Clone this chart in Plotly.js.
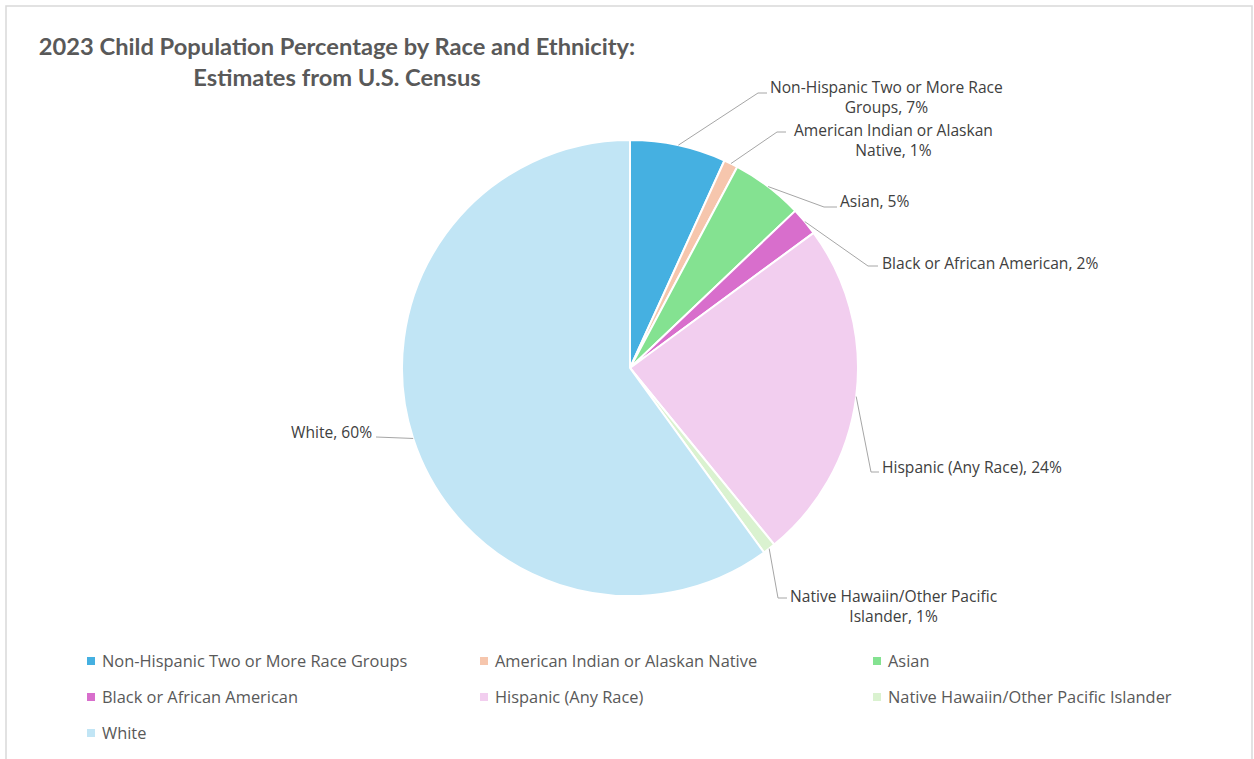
<!DOCTYPE html>
<html>
<head>
<meta charset="utf-8">
<script src="https://cdn.plot.ly/plotly-3.0.1.min.js"></script>
<style>
  html, body { margin: 0; padding: 0; background: #ffffff; }
  #chart { width: 1254px; height: 759px; }
</style>
</head>
<body>
<div id="chart"></div>
<script>
// ---- Data ----
const categories = [
  "Non-Hispanic Two or More Race Groups",
  "American Indian or Alaskan Native",
  "Asian",
  "Black or African American",
  "Hispanic (Any Race)",
  "Native Hawaiin/Other Pacific Islander",
  "White"
];
const values = [6.8, 1.0, 5.1, 2.0, 24.2, 0.9, 60.0];
const sliceLabels = [
  "Non-Hispanic Two or More Race<br>Groups",
  "American Indian or Alaskan<br>Native",
  "Asian",
  "Black or African American",
  "Hispanic (Any Race)",
  "Native Hawaiin/Other Pacific<br>Islander",
  "White"
];
const colors = ["#45B0E1", "#F6C6AD", "#84E291", "#D86ECC", "#F2CEEF", "#DAF2D0", "#C1E5F5"];

// ---- Layout constants (pixels) ----
const W = 1254, H = 759;
const CX = 630, CY = 368, R = 228;
const px = x => x / W;
const py = y => 1 - y / H;

// label placement (text block centre, leader elbow, leader end)
const labelPos = [
  {tx: 886, ty: 97,  anchor: "center", ex: 758, ey: 93,  endx: 767},
  {tx: 894, ty: 140, anchor: "center", ex: 777, ey: 132, endx: 786},
  {tx: 839, ty: 201, anchor: "left",   ex: 824, ey: 207, endx: 837},
  {tx: 881, ty: 263, anchor: "left",   ex: 868, ey: 266, endx: 878},
  {tx: 881, ty: 467, anchor: "left",   ex: 871, ey: 472, endx: 879},
  {tx: 894, ty: 606, anchor: "center", ex: 778, ey: 598, endx: 787},
  {tx: 373, ty: 432, anchor: "right",  ex: 376, ey: 437, endx: 376}
];

const total = values.reduce((a, b) => a + b, 0);
const shapes = [];
const annotations = [];

// chart frame
shapes.push({type: "rect", xref: "paper", yref: "paper",
  x0: px(6), x1: px(1252), y0: py(770), y1: py(6),
  line: {color: "#D9D9D9", width: 1.5}, fillcolor: "rgba(0,0,0,0)", layer: "below"});

let cum = 0;
values.forEach((v, i) => {
  const mid = (cum + v / 2) / total * 2 * Math.PI;
  cum += v;
  const sx = CX + R * Math.sin(mid);
  const sy = CY - R * Math.cos(mid);
  const L = labelPos[i];
  shapes.push({type: "path", xref: "paper", yref: "paper",
    path: `M ${px(sx)},${py(sy)} L ${px(L.ex)},${py(L.ey)} L ${px(L.endx)},${py(L.ey)}`,
    line: {color: "#A6A6A6", width: 1}});
  const pct = Math.round(v / total * 100) + "%";
  annotations.push({xref: "paper", yref: "paper", x: px(L.tx), y: py(L.ty),
    xanchor: L.anchor, yanchor: "middle", align: "center", showarrow: false,
    borderpad: 0,
    text: sliceLabels[i] + ", " + pct,
    font: {family: "Open Sans, sans-serif", size: 15.6, color: "#404040"}});
});

// custom legend
const legCols = [87, 480, 873];
const legRows = [660, 696, 732];
categories.forEach((c, i) => {
  const lx = legCols[i % 3], ly = legRows[Math.floor(i / 3)];
  shapes.push({type: "rect", xref: "paper", yref: "paper",
    x0: px(lx), x1: px(lx + 8), y0: py(ly + 5), y1: py(ly - 3),
    fillcolor: colors[i], line: {width: 0}});
  annotations.push({xref: "paper", yref: "paper", x: px(lx + 13), y: py(ly),
    xanchor: "left", yanchor: "middle", showarrow: false, text: c,
    font: {family: "Open Sans, sans-serif", size: 16.4, color: "#595959"}});
});

const trace = {
  type: "pie",
  labels: categories,
  values: values,
  sort: false,
  direction: "clockwise",
  rotation: 0,
  textinfo: "none",
  hoverinfo: "label+percent",
  marker: {colors: colors, line: {color: "#FFFFFF", width: 2}},
  domain: {x: [px(CX - R), px(CX + R)], y: [py(CY + R), py(CY - R)]},
  showlegend: false
};

const layout = {
  width: W, height: H,
  margin: {l: 0, r: 0, t: 0, b: 0},
  paper_bgcolor: "#FFFFFF",
  showlegend: false,
  title: {
    text: "<b>2023 Child Population Percentage by Race and Ethnicity:<br>Estimates from U.S. Census</b>",
    x: px(337), xref: "paper", xanchor: "center",
    y: py(55), yref: "paper", yanchor: "middle",
    font: {family: "Lato, sans-serif", size: 23.7, color: "#595959"}
  },
  shapes: shapes,
  annotations: annotations
};

Plotly.newPlot("chart", [trace], layout, {displayModeBar: false, staticPlot: true});
</script>
</body>
</html>
